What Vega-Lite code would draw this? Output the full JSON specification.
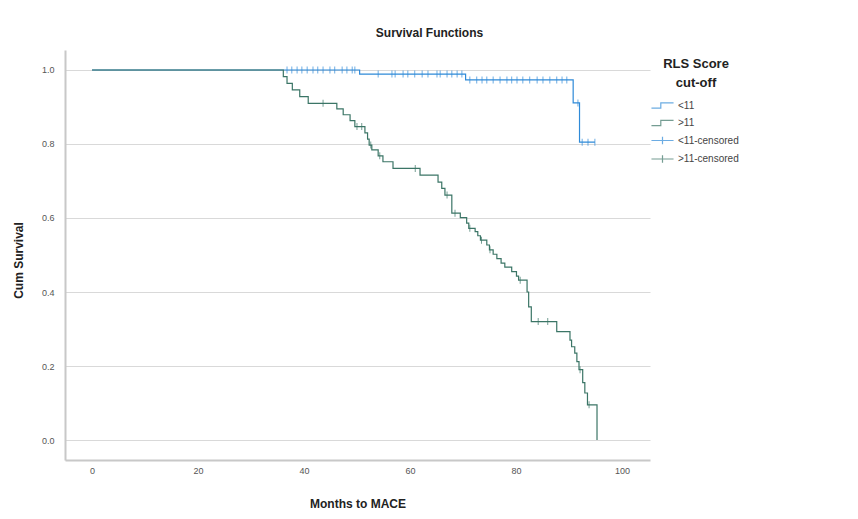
{
  "$schema": "https://vega.github.io/schema/vega-lite/v6.json",
  "width": 585,
  "height": 410,
  "autosize": "none",
  "padding": {"left": 65, "top": 50, "right": 208, "bottom": 59},
  "background": "white",
  "title": {"text": "Survival Functions", "fontSize": 12, "font": "Liberation Sans", "fontWeight": "bold", "color": "#222222", "anchor": "middle", "dx": 72, "offset": 10},
  "config": {"view": {"stroke": null}, "font": "Liberation Sans",
    "legend": {"padding": 0, "titleFontSize": 13, "titleFontWeight": "bold", "titleColor": "#222222", "titleAnchor": "middle", "titleAlign": "center", "titleLineHeight": 19, "titlePadding": 6, "labelFontSize": 10, "labelColor": "#444444", "labelOffset": 6, "symbolSize": 289, "symbolStrokeWidth": 1.2, "rowPadding": 2.5}
  },
  "datasets": {
    "steps": [
      {"key": "<11", "t": 0, "s": 1.0},
      {"key": "<11", "t": 50.5, "s": 0.989},
      {"key": "<11", "t": 70.5, "s": 0.973},
      {"key": "<11", "t": 90.8, "s": 0.911},
      {"key": "<11", "t": 92.0, "s": 0.805},
      {"key": "<11", "t": 94.9, "s": 0.805},
      {"key": ">11", "t": 0, "s": 1.0},
      {"key": ">11", "t": 36.1, "s": 0.982},
      {"key": ">11", "t": 36.8, "s": 0.964},
      {"key": ">11", "t": 37.8, "s": 0.946},
      {"key": ">11", "t": 39.2, "s": 0.928},
      {"key": ">11", "t": 40.8, "s": 0.91},
      {"key": ">11", "t": 46.2, "s": 0.895},
      {"key": ">11", "t": 47.4, "s": 0.879},
      {"key": ">11", "t": 48.7, "s": 0.863},
      {"key": ">11", "t": 49.6, "s": 0.847},
      {"key": ">11", "t": 51.5, "s": 0.83},
      {"key": ">11", "t": 52.0, "s": 0.813},
      {"key": ">11", "t": 52.3, "s": 0.797},
      {"key": ">11", "t": 52.8, "s": 0.784},
      {"key": ">11", "t": 54.0, "s": 0.768},
      {"key": ">11", "t": 54.9, "s": 0.752},
      {"key": ">11", "t": 56.8, "s": 0.734},
      {"key": ">11", "t": 61.9, "s": 0.716},
      {"key": ">11", "t": 65.3, "s": 0.697},
      {"key": ">11", "t": 66.0, "s": 0.68},
      {"key": ">11", "t": 66.6, "s": 0.662},
      {"key": ">11", "t": 67.9, "s": 0.613},
      {"key": ">11", "t": 69.5, "s": 0.601},
      {"key": ">11", "t": 70.7, "s": 0.586},
      {"key": ">11", "t": 71.1, "s": 0.572},
      {"key": ">11", "t": 72.3, "s": 0.563},
      {"key": ">11", "t": 72.8, "s": 0.552},
      {"key": ">11", "t": 73.3, "s": 0.54},
      {"key": ">11", "t": 74.5, "s": 0.527},
      {"key": ">11", "t": 75.0, "s": 0.514},
      {"key": ">11", "t": 75.7, "s": 0.502},
      {"key": ">11", "t": 76.4, "s": 0.49},
      {"key": ">11", "t": 77.2, "s": 0.478},
      {"key": ">11", "t": 77.9, "s": 0.467},
      {"key": ">11", "t": 79.2, "s": 0.455},
      {"key": ">11", "t": 80.1, "s": 0.443},
      {"key": ">11", "t": 80.5, "s": 0.432},
      {"key": ">11", "t": 82.1, "s": 0.4},
      {"key": ">11", "t": 82.4, "s": 0.36},
      {"key": ">11", "t": 82.9, "s": 0.32},
      {"key": ">11", "t": 87.7, "s": 0.293},
      {"key": ">11", "t": 90.2, "s": 0.27},
      {"key": ">11", "t": 90.5, "s": 0.252},
      {"key": ">11", "t": 91.1, "s": 0.235},
      {"key": ">11", "t": 91.5, "s": 0.212},
      {"key": ">11", "t": 91.9, "s": 0.19},
      {"key": ">11", "t": 92.6, "s": 0.155},
      {"key": ">11", "t": 93.0, "s": 0.127},
      {"key": ">11", "t": 93.5, "s": 0.095},
      {"key": ">11", "t": 95.3, "s": 0.0}
    ],
    "censored": [
      {"key": "<11-censored", "t": 36.8, "s": 1.0},
      {"key": "<11-censored", "t": 37.7, "s": 1.0},
      {"key": "<11-censored", "t": 38.7, "s": 1.0},
      {"key": "<11-censored", "t": 39.6, "s": 1.0},
      {"key": "<11-censored", "t": 40.6, "s": 1.0},
      {"key": "<11-censored", "t": 41.7, "s": 1.0},
      {"key": "<11-censored", "t": 42.6, "s": 1.0},
      {"key": "<11-censored", "t": 43.6, "s": 1.0},
      {"key": "<11-censored", "t": 44.9, "s": 1.0},
      {"key": "<11-censored", "t": 45.8, "s": 1.0},
      {"key": "<11-censored", "t": 47.2, "s": 1.0},
      {"key": "<11-censored", "t": 48.1, "s": 1.0},
      {"key": "<11-censored", "t": 49.1, "s": 1.0},
      {"key": "<11-censored", "t": 49.6, "s": 1.0},
      {"key": "<11-censored", "t": 54.0, "s": 0.989},
      {"key": "<11-censored", "t": 56.6, "s": 0.989},
      {"key": "<11-censored", "t": 57.2, "s": 0.989},
      {"key": "<11-censored", "t": 58.7, "s": 0.989},
      {"key": "<11-censored", "t": 59.6, "s": 0.989},
      {"key": "<11-censored", "t": 60.9, "s": 0.989},
      {"key": "<11-censored", "t": 62.3, "s": 0.989},
      {"key": "<11-censored", "t": 63.4, "s": 0.989},
      {"key": "<11-censored", "t": 65.1, "s": 0.989},
      {"key": "<11-censored", "t": 65.7, "s": 0.989},
      {"key": "<11-censored", "t": 67.0, "s": 0.989},
      {"key": "<11-censored", "t": 67.9, "s": 0.989},
      {"key": "<11-censored", "t": 68.9, "s": 0.989},
      {"key": "<11-censored", "t": 69.8, "s": 0.989},
      {"key": "<11-censored", "t": 71.3, "s": 0.973},
      {"key": "<11-censored", "t": 72.6, "s": 0.973},
      {"key": "<11-censored", "t": 73.6, "s": 0.973},
      {"key": "<11-censored", "t": 74.5, "s": 0.973},
      {"key": "<11-censored", "t": 75.7, "s": 0.973},
      {"key": "<11-censored", "t": 77.0, "s": 0.973},
      {"key": "<11-censored", "t": 78.3, "s": 0.973},
      {"key": "<11-censored", "t": 79.2, "s": 0.973},
      {"key": "<11-censored", "t": 80.2, "s": 0.973},
      {"key": "<11-censored", "t": 81.3, "s": 0.973},
      {"key": "<11-censored", "t": 82.6, "s": 0.973},
      {"key": "<11-censored", "t": 84.0, "s": 0.973},
      {"key": "<11-censored", "t": 85.1, "s": 0.973},
      {"key": "<11-censored", "t": 86.4, "s": 0.973},
      {"key": "<11-censored", "t": 87.7, "s": 0.973},
      {"key": "<11-censored", "t": 88.7, "s": 0.973},
      {"key": "<11-censored", "t": 89.6, "s": 0.973},
      {"key": "<11-censored", "t": 91.7, "s": 0.911},
      {"key": "<11-censored", "t": 92.5, "s": 0.805},
      {"key": "<11-censored", "t": 93.6, "s": 0.805},
      {"key": "<11-censored", "t": 94.9, "s": 0.805},
      {"key": ">11-censored", "t": 43.6, "s": 0.91},
      {"key": ">11-censored", "t": 50.0, "s": 0.847},
      {"key": ">11-censored", "t": 50.9, "s": 0.847},
      {"key": ">11-censored", "t": 52.6, "s": 0.797},
      {"key": ">11-censored", "t": 54.3, "s": 0.768},
      {"key": ">11-censored", "t": 61.0, "s": 0.734},
      {"key": ">11-censored", "t": 67.0, "s": 0.662},
      {"key": ">11-censored", "t": 68.5, "s": 0.613},
      {"key": ">11-censored", "t": 71.3, "s": 0.572},
      {"key": ">11-censored", "t": 73.5, "s": 0.54},
      {"key": ">11-censored", "t": 75.1, "s": 0.514},
      {"key": ">11-censored", "t": 80.8, "s": 0.432},
      {"key": ">11-censored", "t": 84.2, "s": 0.32},
      {"key": ">11-censored", "t": 86.0, "s": 0.32},
      {"key": ">11-censored", "t": 92.1, "s": 0.19},
      {"key": ">11-censored", "t": 93.8, "s": 0.095}
    ]
  },
  "layer": [
    {
      "data": {"name": "steps"},
      "mark": {"type": "line", "interpolate": "step-after", "strokeWidth": 1.2},
      "encoding": {
        "x": {
          "field": "t", "type": "quantitative",
          "scale": {"domain": [-5.1, 105.3], "nice": false, "zero": false},
          "axis": {"values": [0, 20, 40, 60, 80, 100], "title": "Months to MACE", "grid": false, "domainColor": "#c8c8c8", "domainWidth": 2, "ticks": false, "tickSize": 0, "labelPadding": 6, "labelFontSize": 9, "labelColor": "#555555", "titleFontSize": 12, "titleFontWeight": "bold", "titleColor": "#222222", "titleY": 43, "titleBaseline": "middle"}
        },
        "y": {
          "field": "s", "type": "quantitative",
          "scale": {"domain": [-0.054, 1.054], "nice": false, "zero": false},
          "axis": {"values": [0, 0.2, 0.4, 0.6, 0.8, 1.0], "format": ".1f", "title": "Cum Survival", "grid": true, "gridColor": "#d9d9d9", "gridWidth": 1, "domainColor": "#c8c8c8", "domainWidth": 2, "ticks": false, "tickSize": 0, "labelPadding": 11, "labelFontSize": 9, "labelColor": "#555555", "titleFontSize": 12, "titleFontWeight": "bold", "titleColor": "#222222", "titleX": -47, "titleY": 210, "titleBaseline": "middle"}
        },
        "color": {"field": "key", "type": "nominal", "scale": {"domain": [">11", "<11", ">11-censored", "<11-censored"], "range": ["#3b7566", "#2f8ad8", "#3b7566", "#2f8ad8"]}, "legend": null}
      }
    },
    {
      "data": {"name": "censored"},
      "mark": {"type": "tick", "orient": "vertical", "size": 7, "thickness": 1},
      "encoding": {
        "x": {"field": "t", "type": "quantitative"},
        "y": {"field": "s", "type": "quantitative"},
        "color": {"field": "key", "type": "nominal", "legend": null}
      }
    },
    {
      "data": {"name": "censored"},
      "mark": {"type": "point", "filled": false, "size": 0},
      "encoding": {
        "x": {"field": "t", "type": "quantitative"},
        "y": {"field": "s", "type": "quantitative"},
        "stroke": {"field": "key", "type": "nominal", "scale": {"domain": ["<11", ">11", "<11-censored", ">11-censored"], "range": ["#2f8ad8", "#3b7566", "#2f8ad8", "#3b7566"]}, "legend": {"title": ["RLS Score", "cut-off"], "orient": "none", "legendX": 588, "legendY": 8}},
        "shape": {"field": "key", "type": "nominal", "scale": {"domain": ["<11", ">11", "<11-censored", ">11-censored"], "range": ["M-1.3,0.3H-0.2V-0.3H1.3", "M-1.3,0.3H-0.2V-0.3H1.3", "M-1.3,0H1.3M0,-0.45V0.45", "M-1.3,0H1.3M0,-0.45V0.45"]}, "legend": {"title": ["RLS Score", "cut-off"], "orient": "none", "legendX": 588, "legendY": 8}}
      }
    }
  ]
}
